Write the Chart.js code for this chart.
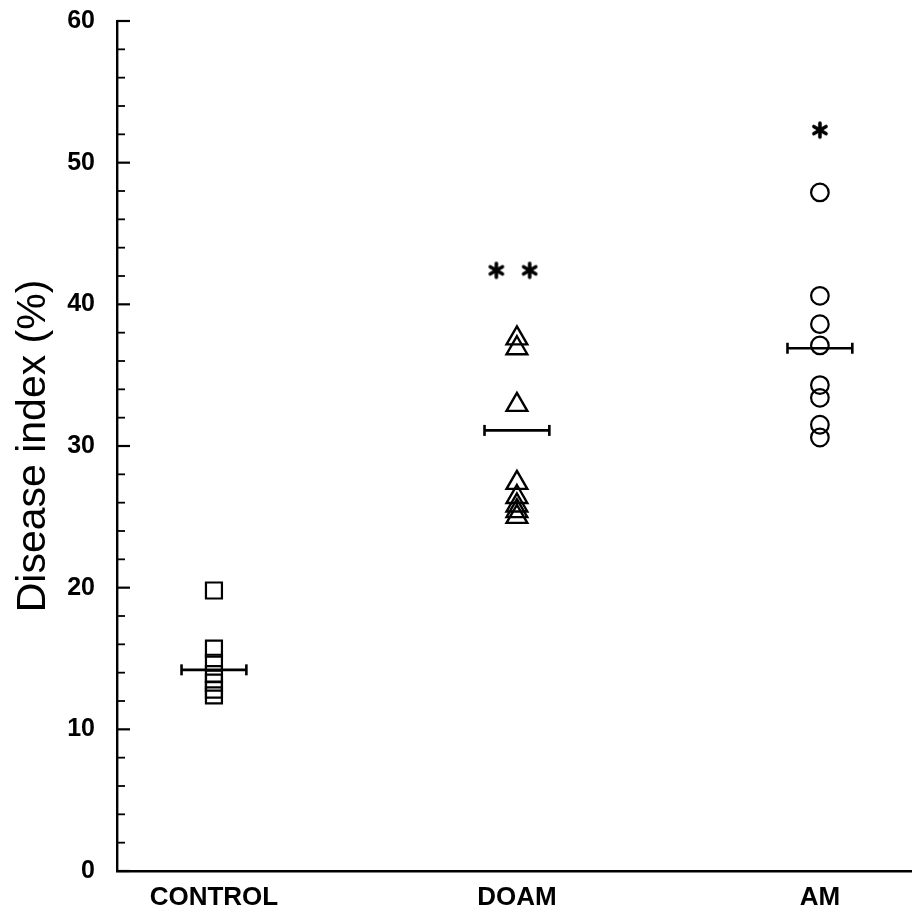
<!DOCTYPE html>
<html>
<head>
<meta charset="utf-8">
<script src="https://cdn.jsdelivr.net/npm/chart.js@4.4.1/dist/chart.umd.min.js"></script>
<style>
  html, body { margin: 0; padding: 0; background: #fff; }
  #wrap { width: 912px; height: 913px; }
</style>
</head>
<body>
<div id="wrap"><canvas id="c" width="912" height="913"></canvas></div>
<script>
// ---- data ----
const categories = ['CONTROL', 'DOAM', 'AM'];
const controlValues = [19.8, 15.7, 14.7, 13.9, 13.3, 12.8, 12.4];
const doamValues = [37.6, 36.9, 32.9, 27.4, 26.4, 25.8, 25.4, 25.0];
const amValues = [47.9, 40.6, 38.6, 37.1, 34.3, 33.4, 31.5, 30.6];
const groupMeans = [14.2, 31.1, 36.9];
// significance marks: [category index, value]
const starMarks = [[1, 42.4], [1, 42.4], [2, 52.3]];
const yTickValues = [0, 10, 20, 30, 40, 50, 60];
const yTitle = 'Disease index (%)';

// ---- styling constants ----
const FONT = '"Liberation Sans", Arial, Helvetica, sans-serif';
const MEAN_HALF = 0.107;
const STAR_OFFSETS = [-0.068, 0.042, 0.0];

function asteriskImage() {
  const s = 20;
  const cv = document.createElement('canvas');
  cv.width = s; cv.height = s;
  const g = cv.getContext('2d');
  g.strokeStyle = '#000';
  g.lineWidth = 3.6;
  g.lineCap = 'round';
  const r = 7, c = s / 2;
  [90, 30, 150].forEach(a => {
    const t = a * Math.PI / 180;
    g.beginPath();
    g.moveTo(c + Math.cos(t) * r, c - Math.sin(t) * r);
    g.lineTo(c - Math.cos(t) * r, c + Math.sin(t) * r);
    g.stroke();
  });
  return cv;
}
const starImg = asteriskImage();

const pointsOf = (idx, vals) => vals.map(v => ({ x: idx, y: v }));

const datasets = [
  {
    data: pointsOf(0, controlValues), pointStyle: 'rect', pointRadius: 11.3,
    borderColor: '#000', backgroundColor: 'rgba(0,0,0,0)', pointBorderWidth: 2.2
  },
  {
    data: pointsOf(1, doamValues), pointStyle: 'triangle', pointRadius: 12,
    borderColor: '#000', backgroundColor: 'rgba(0,0,0,0)', pointBorderWidth: 2.4
  },
  {
    data: pointsOf(2, amValues), pointStyle: 'circle', pointRadius: 8.8,
    borderColor: '#000', backgroundColor: 'rgba(0,0,0,0)', pointBorderWidth: 2.2
  },
  {
    data: starMarks.map((m, i) => ({ x: m[0] + STAR_OFFSETS[i], y: m[1] })),
    pointStyle: starImg, pointRadius: 10
  }
];
groupMeans.forEach((m, i) => {
  datasets.push({
    data: [{ x: i - MEAN_HALF, y: m }, { x: i + MEAN_HALF, y: m }],
    showLine: true, borderColor: '#000', borderWidth: 2.6,
    pointStyle: 'line', pointRotation: 90, pointRadius: 5.5,
    pointBorderWidth: 2.6, pointBorderColor: '#000'
  });
});

const inwardTicks = {
  id: 'inwardTicks',
  afterDraw(chart) {
    const y = chart.scales.y;
    const x0 = chart.chartArea.left;
    const ctx = chart.ctx;
    ctx.save();
    ctx.strokeStyle = '#000';
    for (let v = 0; v <= 60; v += 2) {
      const py = y.getPixelForValue(v);
      const major = v % 10 === 0;
      ctx.lineWidth = major ? 2.2 : 1.8;
      ctx.beginPath();
      ctx.moveTo(x0, py);
      ctx.lineTo(x0 + (major ? 13 : 8), py);
      ctx.stroke();
    }
    ctx.restore();
  }
};

new Chart(document.getElementById('c'), {
  type: 'scatter',
  data: { datasets },
  options: {
    responsive: false,
    animation: false,
    layout: { autoPadding: false, padding: { top: 21, right: 0, left: 0, bottom: 0 } },
    plugins: { legend: { display: false }, tooltip: { enabled: false } },
    scales: {
      x: {
        type: 'linear', min: -0.32, max: 2.304,
        afterBuildTicks: s => { s.ticks = categories.map((c, i) => ({ value: i })); },
        afterFit: s => { s.height = 42; s.paddingLeft = 0; s.paddingRight = 0; },
        ticks: {
          callback: v => categories[v] ?? '',
          color: '#000', padding: 11,
          font: { family: FONT, size: 26, weight: 'bold' }
        },
        grid: { display: false, drawTicks: false },
        border: { display: true, color: '#000', width: 2.4 }
      },
      y: {
        min: 0, max: 60,
        afterBuildTicks: s => { s.ticks = yTickValues.map(v => ({ value: v })); },
        afterFit: s => { s.width = 117; s.paddingTop = 0; s.paddingBottom = 0; },
        ticks: {
          color: '#000', padding: 22,
          font: { family: FONT, size: 25, weight: 'bold' }
        },
        grid: { display: false, drawTicks: false },
        border: { display: true, color: '#000', width: 2.4 },
        title: {
          display: true, text: yTitle, color: '#000',
          font: { family: FONT, size: 41, weight: 'normal' },
          padding: { top: 9, bottom: 0 }
        }
      }
    }
  },
  plugins: [inwardTicks]
});
</script>
</body>
</html>
